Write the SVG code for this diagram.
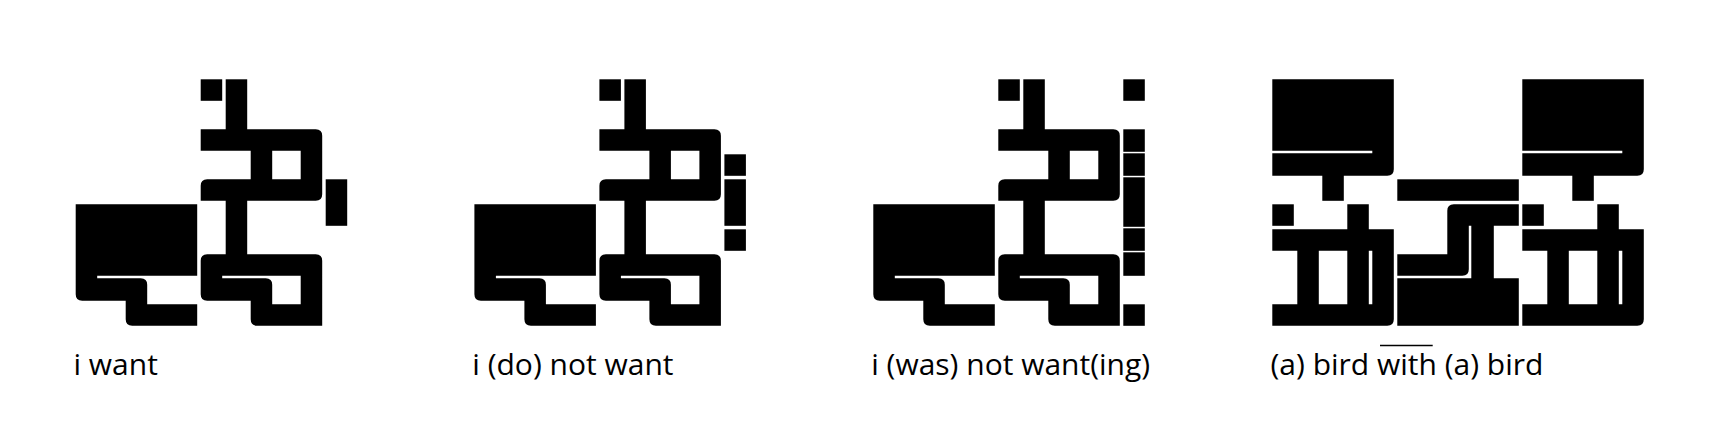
<svg xmlns="http://www.w3.org/2000/svg" width="1715" height="448" viewBox="0 0 1715 448">
<style>
.k{fill:#000;fill-rule:evenodd}
.lbl{font-family:"Open Sans","Liberation Sans",sans-serif;font-size:30px;fill:#000}
</style>
<defs>
<g id="base">
  <rect class="k" x="125" y="0" width="21.5" height="21.5"/>
  <rect class="k" x="150" y="0" width="21.5" height="51"/>
  <path class="k" d="M125,50 H240 Q246.5,50 246.5,56.5 V115 Q246.5,121.5 240,121.5 H125 V106.5 Q125,100 131.5,100 H175 V71.5 H125 Z M196.5,71.5 H225 V100 H196.5 Z"/>
  <rect class="k" x="150" y="120.5" width="21.5" height="55.5"/>
  <path class="k" d="M0,125 H121.5 V196.5 H21.5 V199 H65 Q71.5,199 71.5,205.5 V225 H121.5 V246.5 H56.5 Q50,246.5 50,240 V221.5 H6.5 Q0,221.5 0,215 Z"/>
  <path class="k" d="M125,181.5 Q125,175 131.5,175 H240 Q246.5,175 246.5,181.5 V246.5 H181.5 Q175,246.5 175,240 V221.5 H131.5 Q125,221.5 125,215 Z M146.5,196.5 H225 V225 H196.5 V205.5 Q196.5,199 190,199 H146.5 Z"/>
</g>
<g id="bird">
  <path class="k" d="M0,0 H121.5 V90 Q121.5,96.5 115,96.5 H0 V74 H100 V71.5 H0 Z"/>
  <rect class="k" x="50" y="95.5" width="21.5" height="26"/>
  <rect class="k" x="0" y="125" width="21.5" height="21.5"/>
  <path class="k" d="M0,150 H75 V125 H96.5 V150 H121.5 V240 Q121.5,246.5 115,246.5 H0 V225 H25 V171.5 H0 Z M46.5,171.5 H75 V225 H46.5 Z M96.5,171.5 H100 V225 H96.5 Z"/>
</g>
</defs>

<g id="glyph-i-want" transform="translate(75.7,79.3)">
  <use href="#base"/>
  <rect class="k" x="250" y="100" width="21.5" height="46.5"/>
</g>

<g id="glyph-i-do-not-want" transform="translate(474.4,79.3)">
  <use href="#base"/>
  <rect class="k" x="250" y="75" width="21.5" height="21.5"/>
  <rect class="k" x="250" y="100" width="21.5" height="46.5"/>
  <rect class="k" x="250" y="150" width="21.5" height="21.5"/>
</g>

<g id="glyph-i-was-not-wanting" transform="translate(873.3,79.3)">
  <use href="#base"/>
  <rect class="k" x="250" y="0" width="21.5" height="21.5"/>
  <rect class="k" x="250" y="50" width="21.5" height="22.5"/>
  <rect class="k" x="250" y="74" width="21.5" height="22.5"/>
  <rect class="k" x="250" y="98" width="21.5" height="49.5"/>
  <rect class="k" x="250" y="149" width="21.5" height="22.5"/>
  <rect class="k" x="250" y="173" width="21.5" height="23.5"/>
  <rect class="k" x="250" y="225" width="21.5" height="21.5"/>
</g>

<g id="glyph-bird-with-bird" transform="translate(1272.3,79.3)">
  <use href="#bird"/>
  <g id="with">
    <rect class="k" x="125" y="100" width="121.5" height="21.5"/>
    <path class="k" d="M175,131.5 Q175,125 181.5,125 H246.5 V146.5 H221.5 V199 H246.5 V246.5 H125 V199 H199 V146.5 H196.5 V190 Q196.5,196.5 190,196.5 H125 V175 H175 Z"/>
  </g>
  <use href="#bird" x="250"/>
</g>

<g id="labels">
  <text id="label-1" class="lbl" x="73.5" y="375">i want</text>
  <text id="label-2" class="lbl" x="472.3" y="375">i (do) not want</text>
  <text id="label-3" class="lbl" x="871.2" y="375">i (was) not want(ing)</text>
  <text id="label-4" class="lbl" x="1270.5" y="375">(a) bird <tspan id="with-word">with</tspan> (a) bird</text>
  <line id="with-overline" x1="1380" y1="345.5" x2="1432.7" y2="345.5" stroke="#000" stroke-width="1.3"/>
</g>
</svg>
